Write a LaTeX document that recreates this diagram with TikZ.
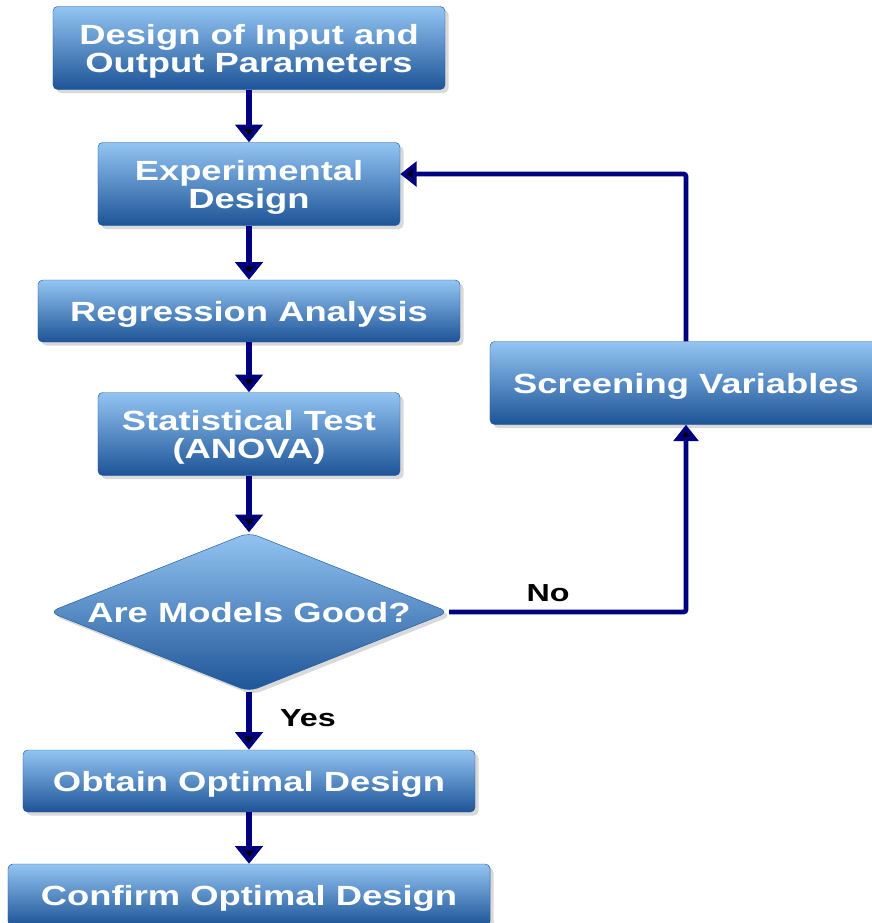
\documentclass[tikz,border=0pt]{standalone}
\usepackage{fontspec}
\newfontfamily\flowfont{Liberation Sans}[FakeStretch=1.31]
\usetikzlibrary{shapes.geometric,arrows.meta,shadows}

\definecolor{boxtop}{RGB}{147,196,242}
\definecolor{boxmid}{RGB}{63,136,212}
\definecolor{boxbot}{RGB}{29,84,151}
\definecolor{boxline}{RGB}{30,90,160}
\definecolor{flowarrow}{RGB}{0,0,128}

\tikzset{
  stepbox/.style={rectangle, rounded corners=4pt, draw=boxline, thin,
    top color=boxtop, middle color=boxmid, bottom color=boxbot,
    drop shadow={shadow xshift=3pt, shadow yshift=-3pt, opacity=0.3},
    text=white, align=center, inner sep=0pt, text depth=0pt,
    font=\flowfont\bfseries\fontsize{23.7pt}{24pt}\selectfont},
  decision/.style={stepbox, diamond, rounded corners=8pt, aspect=2.5},
  answer/.style={font=\flowfont\bfseries\fontsize{21pt}{22pt}\selectfont},
  flow/.style={draw=flowarrow, line width=5.5pt,
    -{Triangle[width=23pt, length=15pt, fill=black]}},
  back/.style={draw=flowarrow, line width=4pt, rounded corners=2pt,
    -{Triangle[width=21pt, length=14pt, fill=black]}}
}

\begin{document}
\begin{tikzpicture}[x=0.03cm, y=-0.03cm]

    \useasboundingbox (0,0) rectangle (872,923);

    % Main column of steps
    \node[stepbox, minimum width=11.76cm, minimum height=2.49cm] (design) at (249,48) {Design of Input and\\Output Parameters};
    \node[stepbox, minimum width=9.06cm, minimum height=2.49cm] (experiment) at (249,184) {Experimental\\Design};
    \node[stepbox, minimum width=12.66cm, minimum height=1.86cm] (regression) at (249,311) {Regression Analysis};
    \node[stepbox, minimum width=9.06cm, minimum height=2.49cm] (anova) at (249,434) {Statistical Test\\(ANOVA)};
    \node[decision, minimum width=12cm, minimum height=4.77cm] (check) at (249,612) {Are Models Good?};
    \node[stepbox, minimum width=13.56cm, minimum height=1.86cm] (obtain) at (249,781) {Obtain Optimal Design};
    \node[stepbox, minimum width=14.46cm, minimum height=1.86cm] (confirm) at (249,895) {Confirm Optimal Design};

    % Side branch
    \node[stepbox, minimum width=11.76cm, minimum height=2.49cm] (screen) at (686,383) {Screening Variables};

    % Answers
    \node[answer] (no) at (548,593) {No};
    \node[answer] (yes) at (308,718) {Yes};

    % Downward flow
    \draw[flow] (design) -- (experiment);
    \draw[flow] (experiment) -- (regression);
    \draw[flow] (regression) -- (anova);
    \draw[flow] (anova) -- (check);
    \draw[flow] (check) -- (obtain);
    \draw[flow] (obtain) -- (confirm);

    % Loop back through screening
    \draw[back] (check.east) -| (screen.south);
    \draw[back] (screen.north) |- ([yshift=8.5pt]experiment.east);

\end{tikzpicture}
\end{document}
